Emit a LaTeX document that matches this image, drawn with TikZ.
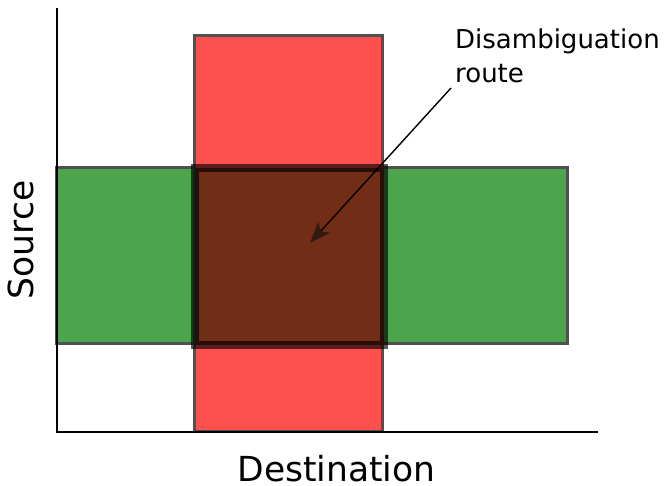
\documentclass[tikz,border=0pt]{standalone}
\usepackage{fontspec}
\setmainfont{DejaVu Sans}
\usetikzlibrary{arrows.meta}
\definecolor{redbar}{RGB}{255,80,80}
\definecolor{greenbar}{RGB}{76,164,76}
\definecolor{overlap}{RGB}{114,45,22}
\definecolor{edgegray}{RGB}{80,80,80}
\definecolor{headcol}{RGB}{50,28,16}
\tikzset{
  bar/.style={draw=edgegray, line width=3pt},
  overlapbox/.style={fill=overlap, draw=black, draw opacity=0.65, line width=8pt},
  axis/.style={line width=1.6pt, black},
  lbl/.style={inner sep=0pt, font=\fontsize{26}{34}\selectfont, align=left},
  axlbl/.style={inner sep=0pt, font=\fontsize{34.5}{40}\selectfont},
  pointer/.style={line width=1.4pt, black, -{Stealth[length=21pt, width=16pt, inset=5pt, color=headcol]}}
}
\begin{document}
\begin{tikzpicture}[x=1pt, y=-1pt]
\useasboundingbox (0,0) rectangle (667,486);
% axes
\coordinate (ytop) at (57,8);
\coordinate (origin) at (57,432);
\coordinate (xend) at (598,432);
% bars
\path[fill=greenbar, bar] (56,168) rectangle (567,344);
\path[fill=redbar, bar] (194,36) rectangle (382,431);
\path[overlapbox] (195,168.5) rectangle (383.5,345.5);
\draw[axis] (ytop) -- (origin) -- (xend);
% labels
\node[lbl, anchor=base west] (route) at (455,83) {Disambiguation\\route};
\node[axlbl, anchor=base] (dest) at (336.5,481) {Destination};
\node[axlbl, anchor=base, rotate=90] (src) at (34,240) {Source};
% arrow
\coordinate (astart) at (451,88);
\coordinate (atip) at (310,243);
\draw[pointer] (astart) -- (atip);
\end{tikzpicture}
\end{document}
